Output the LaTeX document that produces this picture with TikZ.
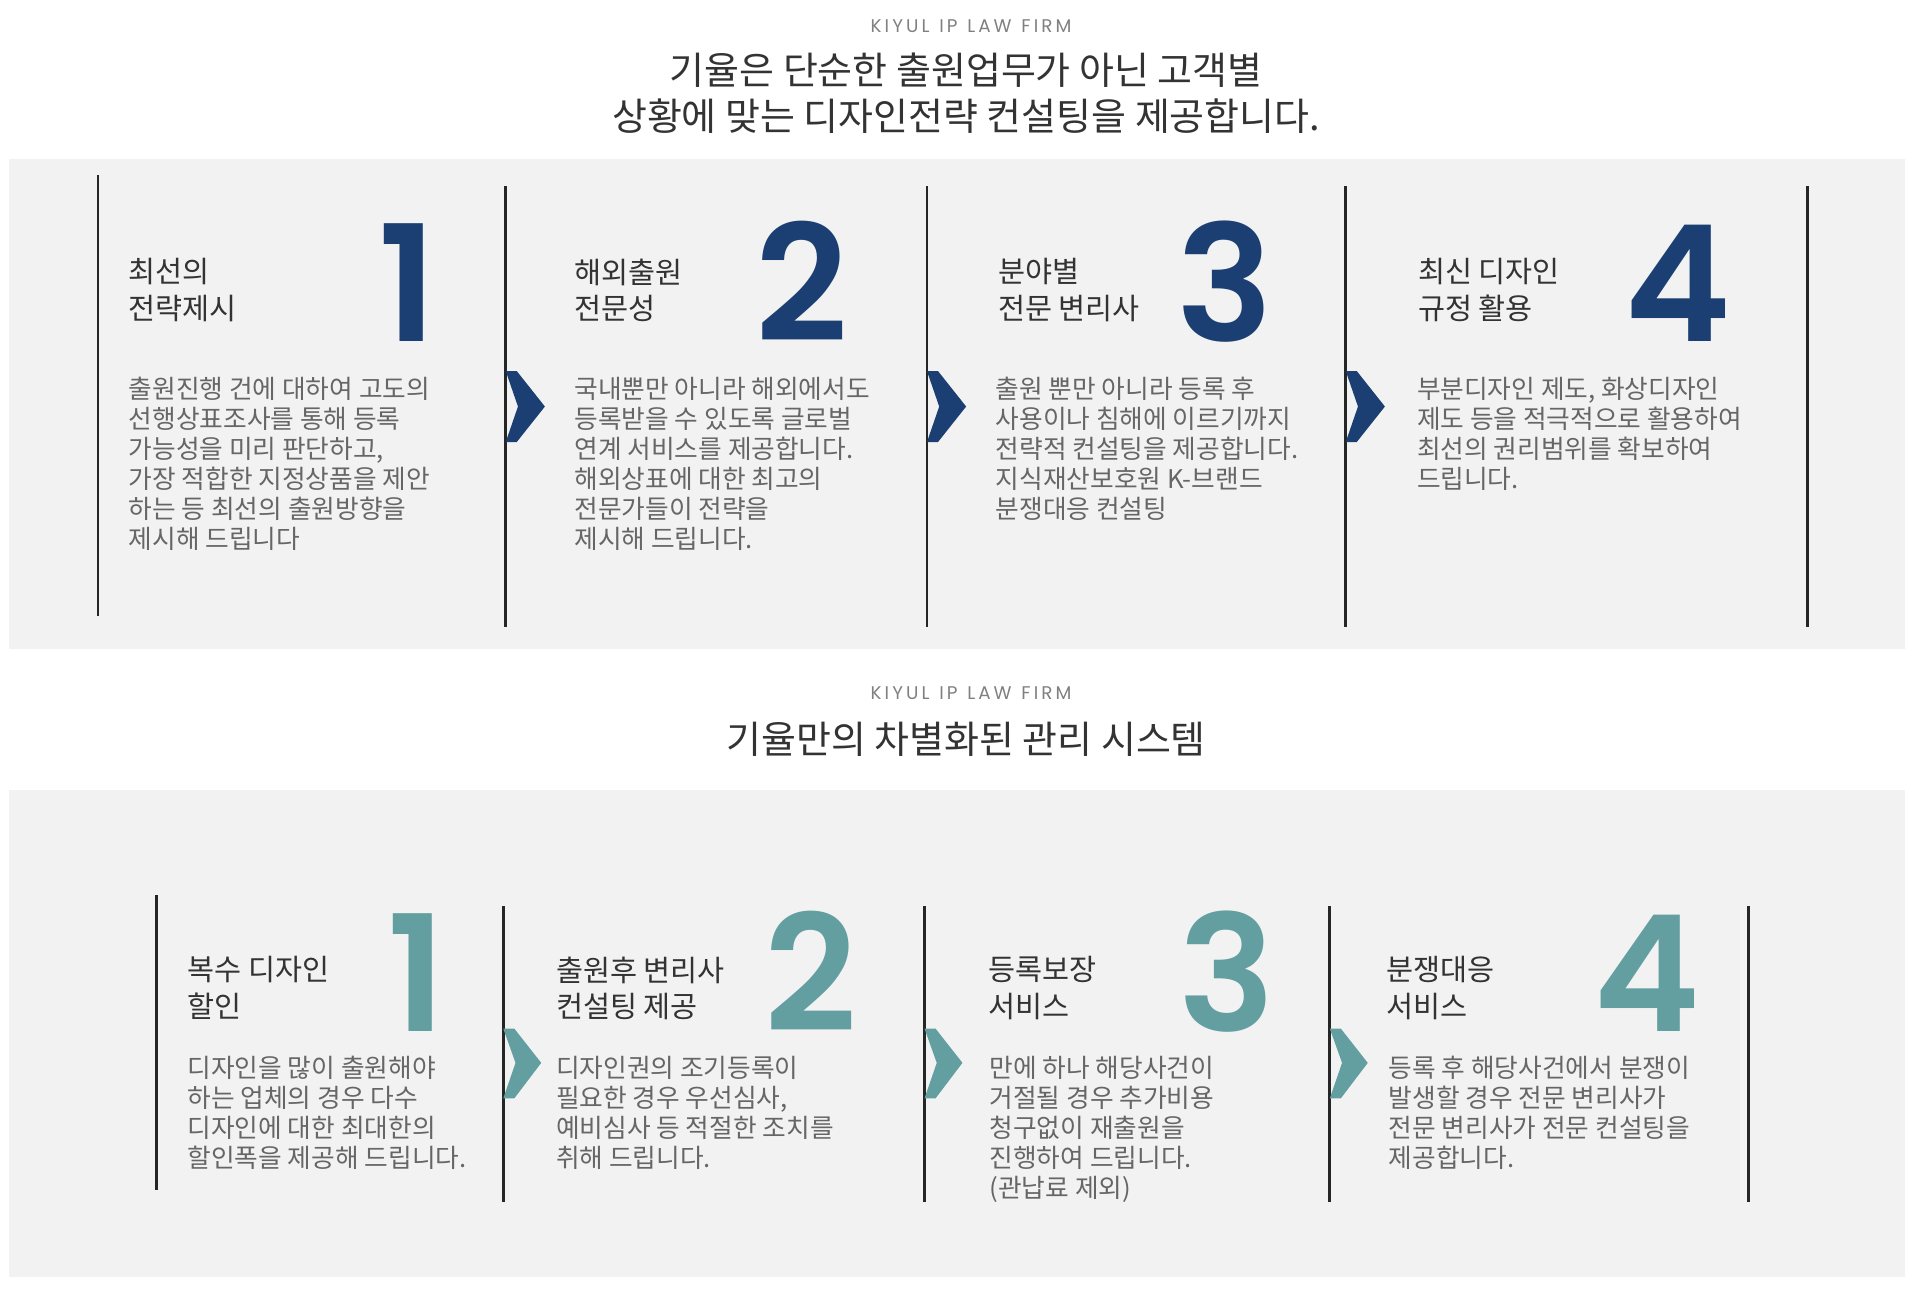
\documentclass[tikz,border=0pt]{standalone}
\usepackage{fontspec}
\setmainfont{Noto Sans CJK KR}
\newfontfamily\numf{Poppins}[UprightFont=* SemiBold]
\newfontfamily\latf{Poppins}
\definecolor{navy}{HTML}{1B3F72}
\definecolor{teal}{HTML}{639FA1}
\definecolor{panel}{HTML}{F2F2F2}
\definecolor{bodyc}{HTML}{666666}
\definecolor{headc}{HTML}{333333}
\tikzset{
 firm/.style={text=gray, font=\latf\fontsize{15}{15}\selectfont, inner sep=0},
 ttl/.style={text=headc, font=\fontsize{31}{37}\selectfont, align=center, inner sep=0},
 head/.style={anchor=north west, text=headc, font=\fontsize{24}{30}\selectfont, align=left, inner sep=0},
 bodyt/.style={anchor=north west, text=bodyc, font=\fontsize{21}{24.5}\selectfont, align=left, inner sep=0},
 num/.style={font=\numf\fontsize{132}{132}\selectfont, inner sep=0, anchor=base, text depth=0pt},
 divl/.style={line width=2.2pt, draw=black!85},
}
\begin{document}
\begin{tikzpicture}[x=1pt,y=-1pt]
\useasboundingbox (0,0) rectangle (1568,1063);
\fill[white] (0,0) rectangle (1568,1063);
\fill[panel] (7,130) rectangle (1556,530);
\fill[panel] (7,645) rectangle (1556,1043);
\node[firm] (f1) at (793,21) {K\,I\,Y\,U\,L\ \ I\,P\ \ L\,A\,W\ \ F\,I\,R\,M};
\node[ttl] (t1) at (789,76) {기율은 단순한 출원업무가 아닌 고객별\\상황에 맞는 디자인전략 컨설팅을 제공합니다.};
\node[firm] (f2) at (793,566) {K\,I\,Y\,U\,L\ \ I\,P\ \ L\,A\,W\ \ F\,I\,R\,M};
\node[ttl] (t2) at (789,604) {기율만의 차별화된 관리 시스템};
% section 1
\draw[divl] (80,143) -- (80,503);
\foreach \x in {413,757,1099,1476} \draw[divl] (\x,152) -- (\x,512);
\foreach \x in {413,757,1099} \fill[navy] (\x,303) -- (\x+9,303) -- (\x+32,332) -- (\x+9,361) -- (\x,361) -- (\x+10,332) -- cycle;
\node[head] (h1) at (105,211) {최선의\\전략제시};
\node[head] (h2) at (469,211) {해외출원\\전문성};
\node[head] (h3) at (815,211) {분야별\\전문 변리사};
\node[head] (h4) at (1158,211) {최신 디자인\\규정 활용};
\node[num,text=navy] (n1) at (333,279) {1};
\node[num,text=navy] (n2) at (655,279) {2};
\node[num,text=navy] (n3) at (1000,279) {3};
\node[num,text=navy] (n4) at (1370,279) {4};
\node[bodyt] (b1) at (105,308) {출원진행 건에 대하여 고도의\\선행상표조사를 통해 등록\\가능성을 미리 판단하고,\\가장 적합한 지정상품을 제안\\하는 등 최선의 출원방향을\\제시해 드립니다};
\node[bodyt] (b2) at (469,308) {국내뿐만 아니라 해외에서도\\등록받을 수 있도록 글로벌\\연계 서비스를 제공합니다.\\해외상표에 대한 최고의\\전문가들이 전략을\\제시해 드립니다.};
\node[bodyt] (b3) at (813,308) {출원 뿐만 아니라 등록 후\\사용이나 침해에 이르기까지\\전략적 컨설팅을 제공합니다.\\지식재산보호원 K-브랜드\\분쟁대응 컨설팅};
\node[bodyt] (b4) at (1157,308) {부분디자인 제도, 화상디자인\\제도 등을 적극적으로 활용하여\\최선의 권리범위를 확보하여\\드립니다.};
% section 2
\draw[divl] (128,731) -- (128,972);
\foreach \x in {411,755,1086,1428} \draw[divl] (\x,740) -- (\x,982);
\foreach \x in {411,755,1086} \fill[teal] (\x,840) -- (\x+9,840) -- (\x+31,868) -- (\x+9,897) -- (\x,897) -- (\x+10,868) -- cycle;
\node[head] (h5) at (153,781) {복수 디자인\\할인};
\node[head] (h6) at (454,781) {출원후 변리사\\컨설팅 제공};
\node[head] (h7) at (807,781) {등록보장\\서비스};
\node[head] (h8) at (1132,781) {분쟁대응\\서비스};
\node[num,text=teal] (n5) at (340,842) {1};
\node[num,text=teal] (n6) at (662,842) {2};
\node[num,text=teal] (n7) at (1002,842) {3};
\node[num,text=teal] (n8) at (1345,842) {4};
\node[bodyt] (b5) at (153,862) {디자인을 많이 출원해야\\하는 업체의 경우 다수\\디자인에 대한 최대한의\\할인폭을 제공해 드립니다.};
\node[bodyt] (b6) at (454,862) {디자인권의 조기등록이\\필요한 경우 우선심사,\\예비심사 등 적절한 조치를\\취해 드립니다.};
\node[bodyt] (b7) at (808,862) {만에 하나 해당사건이\\거절될 경우 추가비용\\청구없이 재출원을\\진행하여 드립니다.\\(관납료 제외)};
\node[bodyt] (b8) at (1134,862) {등록 후 해당사건에서 분쟁이\\발생할 경우 전문 변리사가\\전문 변리사가 전문 컨설팅을\\제공합니다.};
\end{tikzpicture}
\end{document}
